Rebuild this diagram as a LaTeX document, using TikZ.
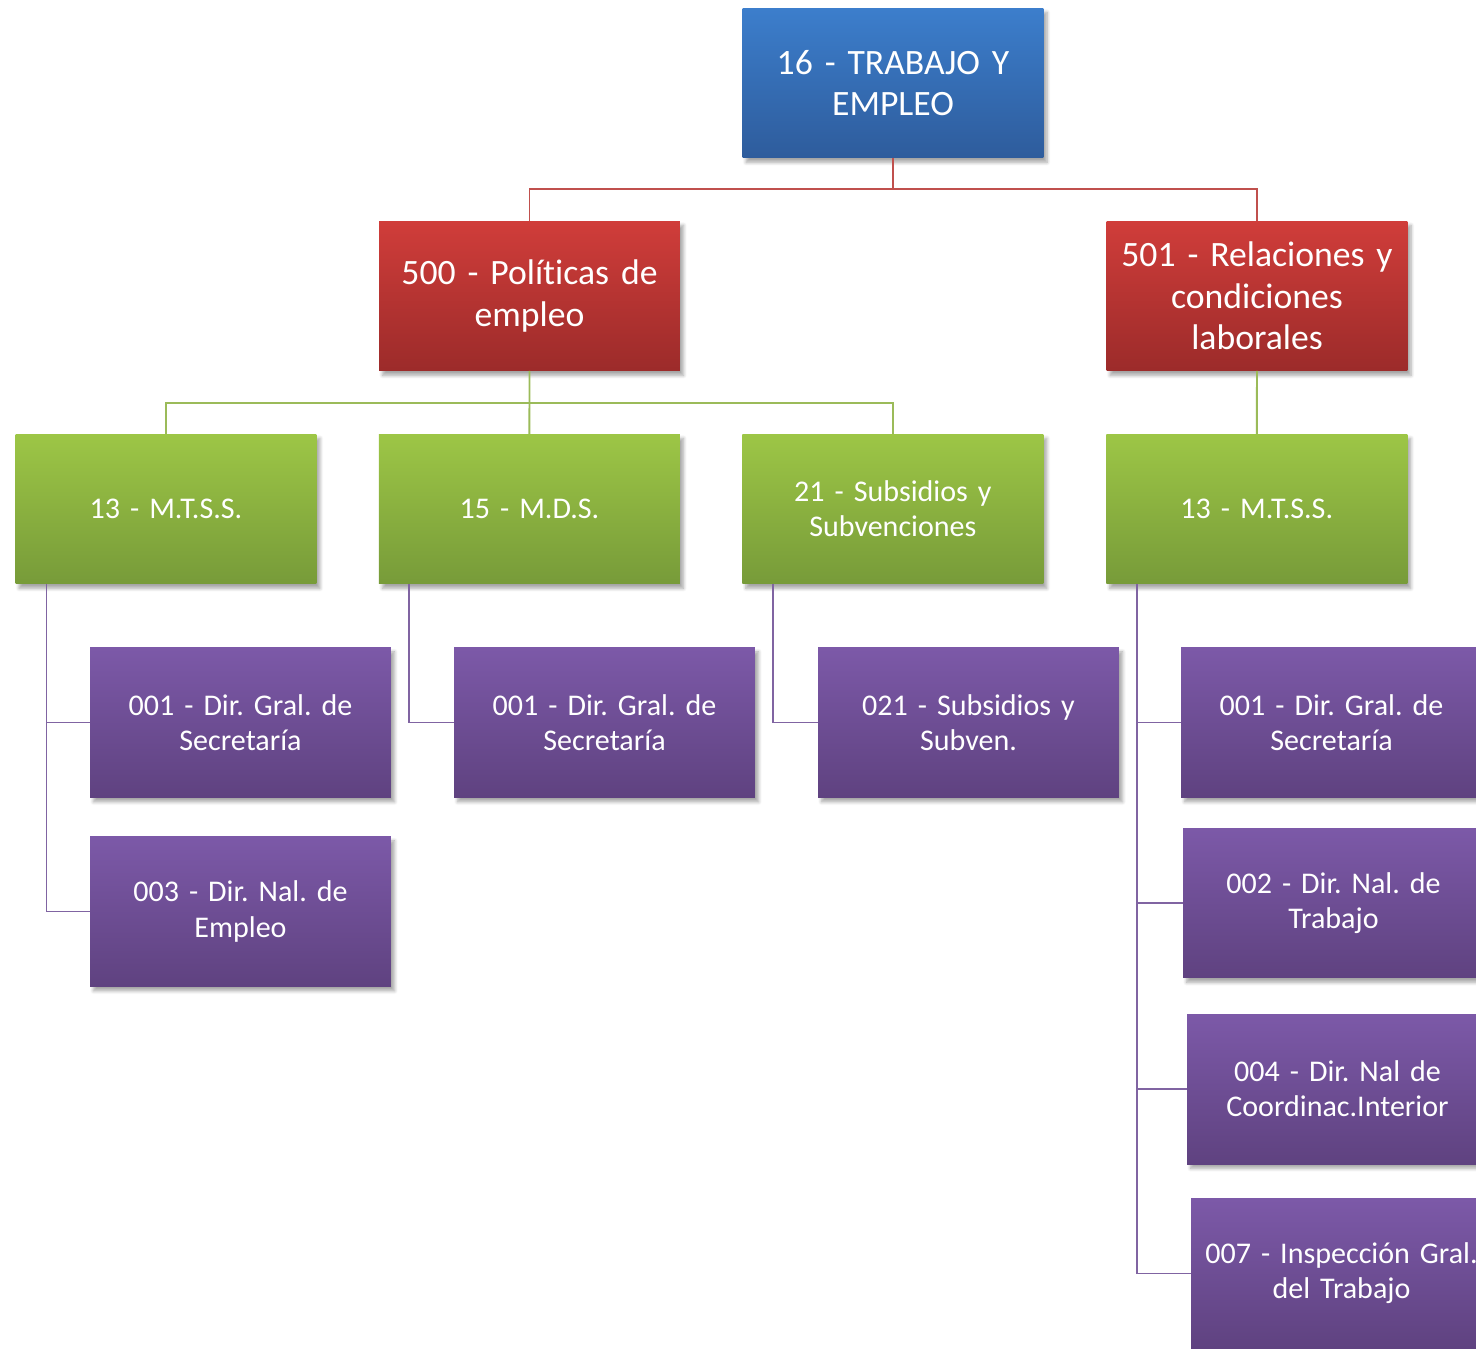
\documentclass[tikz,border=0pt]{standalone}
\usepackage{fontspec}
\setmainfont{Carlito}[Ligatures=NoCommon]
\usepackage{tikz}
\usetikzlibrary{shadows.blur,positioning}
\definecolor{bluetop}{HTML}{3C7ECC}
\definecolor{bluebot}{HTML}{2E5C9C}
\definecolor{redtop}{HTML}{D03D3A}
\definecolor{redbot}{HTML}{9C2B2A}
\definecolor{greentop}{HTML}{9DC646}
\definecolor{greenbot}{HTML}{779B39}
\definecolor{purptop}{HTML}{7C59A8}
\definecolor{purpbot}{HTML}{5F4280}
\definecolor{redline}{HTML}{C0504D}
\definecolor{greenline}{HTML}{9BBB59}
\definecolor{purpline}{HTML}{8064A2}
\tikzset{ORG style/.style={x=0.02cm,y=0.02cm,line width=1.1pt,every node/.style={minimum width=6.02cm,minimum height=3cm,inner sep=0pt,outer sep=0pt,text width=5.9cm,align=center,text=white,blur shadow={shadow xshift=2pt,shadow yshift=-2.5pt,shadow blur steps=6,shadow opacity=35}}}}
\newcommand{\bigtxt}{\fontsize{20.3}{23.5}\selectfont\frenchspacing}
\newcommand{\smalltxt}{\fontsize{17.1}{20}\selectfont\frenchspacing}

\begin{document}
\begin{tikzpicture}[ORG style]
	\tikzstyle{bluebox}= [top color=bluetop,bottom color=bluebot,font=\bigtxt]
	\tikzstyle{redbox}= [top color=redtop,bottom color=redbot,font=\bigtxt]
	\tikzstyle{greenbox}= [top color=greentop,bottom color=greenbot,font=\smalltxt]
	\tikzstyle{purplebox}= [top color=purptop,bottom color=purpbot,font=\smalltxt]
	\clip (0,0) rectangle (1476,-1348);
	
	\node[bluebox] (16) at (893,-83) {16 - TRABAJO Y\\EMPLEO};
	
	\node[redbox] (500) at (529.5,-296) {500 - Políticas de\\empleo};
	\node[redbox] (501) at (1257,-296) {501 - Relaciones y\\condiciones\\laborales};
	
	\node[greenbox] (13a) at (166,-509) {13 - M.T.S.S.};
	\node[greenbox] [right=1.25cm of 13a] (15) {15 - M.D.S.};
	\node[greenbox] [right=1.25cm of 15] (21) {21 - Subsidios y\\Subvenciones};
	\node[greenbox] [right=1.26cm of 21] (13b) {13 - M.T.S.S.};
	
	\node[purplebox] (001a) at (240.5,-722.5) {001 - Dir. Gral. de\\Secretaría};
	\node[purplebox] (003) at (240.5,-911.5) {003 - Dir. Nal. de\\Empleo};
	\node[purplebox] (001b) at (604.5,-722.5) {001 - Dir. Gral. de\\Secretaría};
	\node[purplebox] (021) at (968.5,-722.5) {021 - Subsidios y\\Subven.};
	
	\node[purplebox] (001c) at (1331.5,-722.5) {001 - Dir. Gral. de\\Secretaría};
	\node[purplebox] (002) at (1333.5,-903) {002 - Dir. Nal. de\\Trabajo};
	\node[purplebox] (004) at (1337.5,-1089) {004 - Dir. Nal de\\Coordinac.Interior};
	\node[purplebox] (007) at (1341.5,-1273.5) {007 - Inspección Gral.\\del Trabajo};
	
	\draw[redline] (16.south) -- ++(0,-31) -| (500.north);
	\draw[redline] (16.south) -- ++(0,-31) -| (501.north);
	
	\draw[greenline] (500.south) -- ++(0,-32) -| (13a.north);
	\draw[greenline] (500.south) -- (15.north);
	\draw[greenline] (500.south) -- ++(0,-32) -| (21.north);
	\draw[greenline] (501.south) -- (13b.north);
	
	\draw[purpline] (13a.south west) ++(31,0) |- (001a.west);
	\draw[purpline] (13a.south west) ++(31,0) |- (003.west);
	\draw[purpline] (15.south west) ++(30,0) |- (001b.west);
	\draw[purpline] (21.south west) ++(31,0) |- (021.west);
	\draw[purpline] (13b.south west) ++(31,0) |- (001c.west);
	\draw[purpline] (13b.south west) ++(31,0) |- (002.west);
	\draw[purpline] (13b.south west) ++(31,0) |- (004.west);
	\draw[purpline] (13b.south west) ++(31,0) |- (007.west);
\end{tikzpicture}
\end{document}
